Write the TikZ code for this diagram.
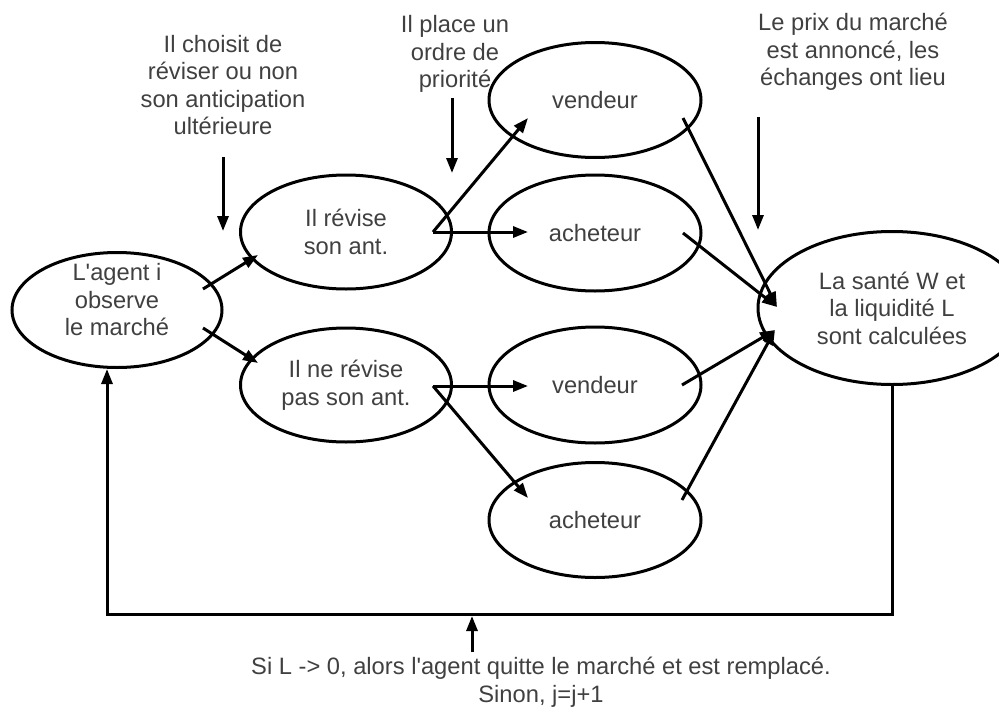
\documentclass[tikz,border=0pt]{standalone}
\usepackage{fontspec}
\setmainfont{Liberation Sans}
\usetikzlibrary{shapes.geometric,arrows.meta,calc}
\definecolor{txtc}{HTML}{404040}
\newcommand\dgfont{\fontsize{23.7}{27.5}\selectfont}
\begin{document}
\begin{tikzpicture}[x=1pt,y=-1pt,
  ell/.style={draw, ellipse, line width=3pt, inner sep=0pt, text=txtc, font=\dgfont, align=center},
  txt/.style={text=txtc, font=\dgfont, align=center, inner sep=0pt},
  conn/.style={line width=3pt, -{Triangle[length=15pt,width=11pt]}},
  plain/.style={line width=3pt}
]
\useasboundingbox (0,0) rectangle (999,715);

% ellipses
\node[ell, minimum width=210pt, minimum height=115pt] (agent) at (117,310) {};
\node[txt] (agenttxt) at (117,300) {L\textquotesingle agent i\\observe\\le marché};
\node[ell, minimum width=211pt, minimum height=114pt] (revise) at (346,232) {Il révise\\son ant.};
\node[ell, minimum width=211pt, minimum height=114pt] (nerevise) at (346,385) {Il ne révise\\pas son ant.};
\node[ell, minimum width=212pt, minimum height=115pt] (vend1) at (595,100) {vendeur};
\node[ell, minimum width=212pt, minimum height=116pt] (ach1) at (595,233) {acheteur};
\node[ell, minimum width=212pt, minimum height=116pt] (vend2) at (595,385) {vendeur};
\node[ell, minimum width=212pt, minimum height=115pt] (ach2) at (595,520) {acheteur};
\node[ell, minimum width=268pt, minimum height=153pt] (sante) at (892,308) {La santé W et\\la liquidité L\\sont calculées};

% annotations
\node[txt] (choix) at (223,85) {Il choisit de\\réviser ou non\\son anticipation\\ultérieure};
\node[txt] (place) at (455,54) {Il place un\\ordre de\\priorité};
\node[txt] (prix) at (853,52) {Le prix du marché\\est annoncé, les\\échanges ont lieu};
\node[txt] (bas) at (541,682) {Si L -> 0, alors l\textquotesingle agent quitte le marché et est remplacé.\\Sinon, j=j+1};

\coordinate (choixa) at (223,157);
\coordinate (choixb) at (223,231);
\coordinate (placea) at (452,98);
\coordinate (placeb) at (452,173);
\coordinate (prixa) at (758,117);
\coordinate (prixb) at (758,230);
\draw[conn] (choixa) -- (choixb);
\draw[conn] (placea) -- (placeb);
\draw[conn] (prixa) -- (prixb);

% agent to decisions
\draw[conn] ($(agent)+(86,-21)$) -- ($(revise)+(-88,23)$);
\draw[conn] ($(agent)+(86,18)$) -- ($(nerevise)+(-88,-22)$);

% decisions to orders
\coordinate (rv) at ($(revise)+(87,0)$);
\coordinate (nr) at ($(nerevise)+(87,1)$);
\draw[conn] (rv) -- ($(vend1)+(-67,18)$);
\draw[conn] (rv) -- ($(ach1)+(-67,-1)$);
\draw[conn] (nr) -- ($(vend2)+(-67,1)$);
\draw[conn] (nr) -- ($(ach2)+(-67,-22)$);

% orders to market
\draw[conn] ($(vend1)+(88,18)$) -- ($(sante)+(-115,-1)$);
\draw[conn] ($(ach1)+(88,0)$) -- ($(sante)+(-115,-1)$);
\draw[conn] ($(vend2)+(87,0)$) -- ($(sante)+(-117,22)$);
\draw[conn] ($(ach2)+(87,-20)$) -- ($(sante)+(-117,22)$);

% feedback loop
\coordinate (loopr) at ($(sante.south)+(0,228)$);
\coordinate (agentin) at ($(agent.south)+(-10,0)$);
\draw[conn] (sante.south) -- (loopr) -| (agentin);
\coordinate (basa) at (472,652);
\coordinate (basb) at (472,616);
\draw[conn] (basa) -- (basb);
\end{tikzpicture}
\end{document}
